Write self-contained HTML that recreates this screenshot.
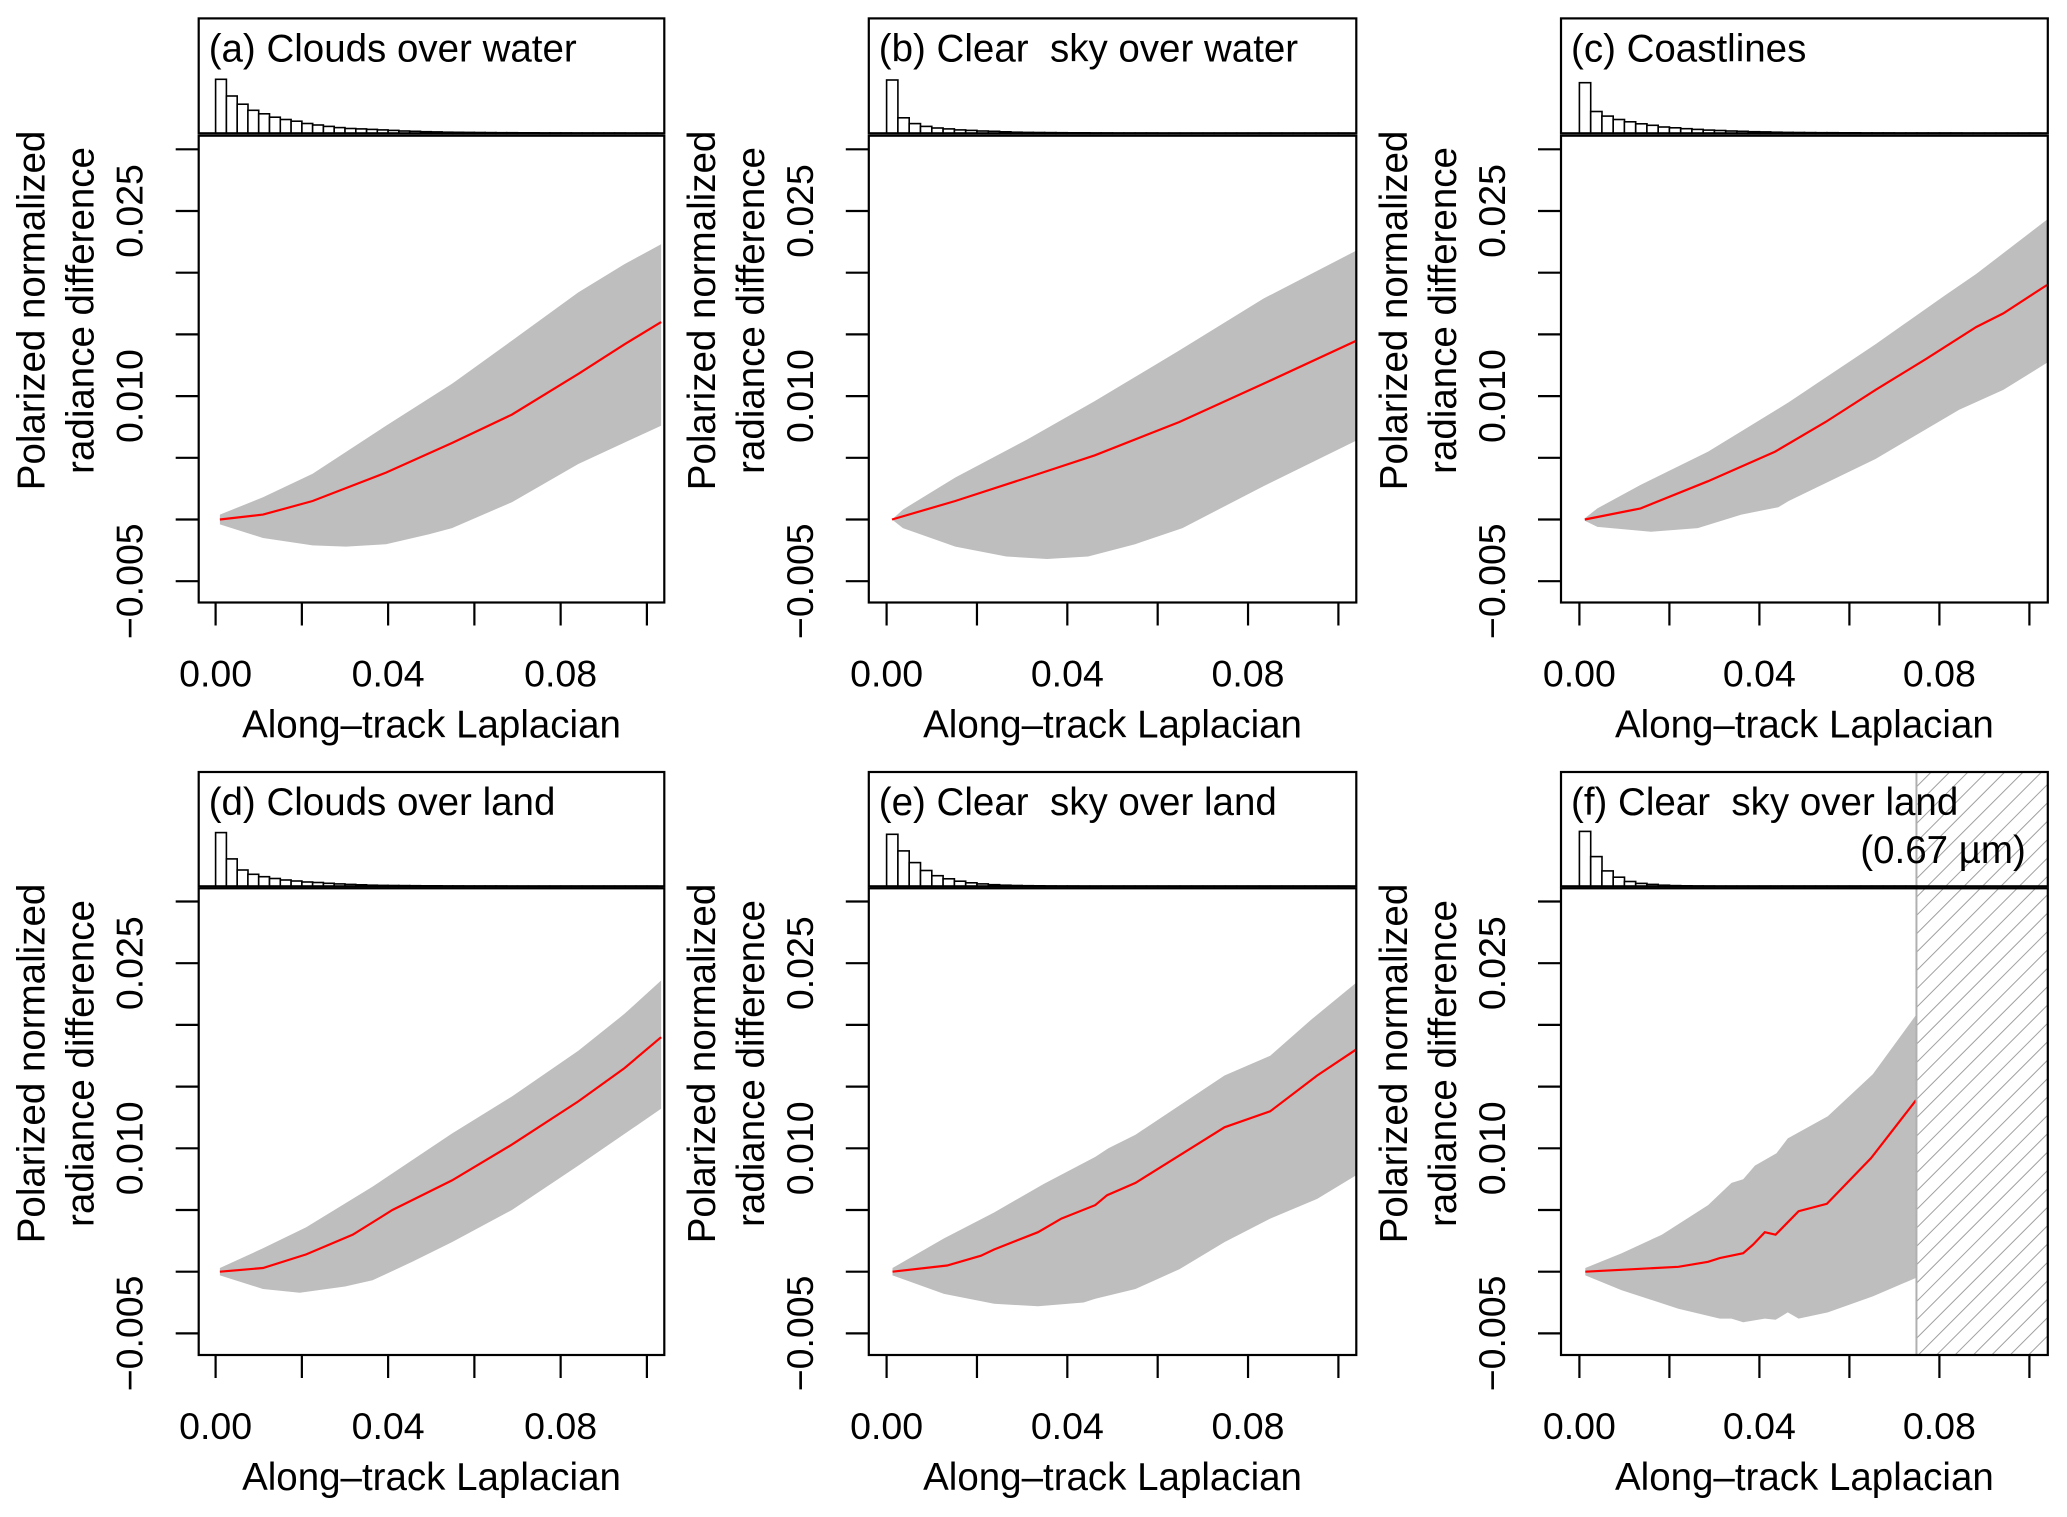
<!DOCTYPE html>
<html><head><meta charset="utf-8"><style>
html,body{margin:0;padding:0;background:#fff;}
svg{display:block;font-family:"Liberation Sans",Arial,sans-serif;}
</style></head><body>
<svg id="fig" width="2067" height="1517" viewBox="0 0 2067 1517" xmlns="http://www.w3.org/2000/svg"></svg>
<script>
const xTicks = [0, 0.02, 0.04, 0.06, 0.08, 0.10];
const xTickLabels = ["0.00", "", "0.04", "", "0.08", ""];
const yTicks = [-0.005, 0, 0.005, 0.010, 0.015, 0.020, 0.025, 0.030];
const yTickLabels = ["\u22120.005", "", "", "0.010", "", "", "0.025", ""];
const panelTitles = ["(a) Clouds over water", "(b) Clear  sky over water", "(c) Coastlines", "(d) Clouds over land", "(e) Clear  sky over land", "(f) Clear  sky over land"];
const histBinWidth = 0.0025;

const aMedX = [0.001,0.011,0.0225,0.0395,0.0548,0.0687,0.0841,0.0948,0.1033];
const aMedY = [0,0.0004,0.0015,0.0038,0.0062,0.0085,0.0118,0.0142,0.016];
const aHiX = [0.001,0.011,0.0225,0.0395,0.0548,0.0687,0.0841,0.0948,0.1033];
const aHiY = [0.0004,0.0018,0.0037,0.0076,0.011,0.0145,0.0184,0.0207,0.0223];
const aLoX = [0.001,0.011,0.0225,0.0302,0.0395,0.0495,0.0548,0.0687,0.0841,0.1033];
const aLoY = [-0.0004,-0.0015,-0.0021,-0.0022,-0.002,-0.0012,-0.0007,0.0014,0.0045,0.0076];
const aHist = [0.47,0.325,0.253,0.2,0.17,0.14,0.12,0.105,0.085,0.072,0.06,0.05,0.042,0.038,0.034,0.03,0.025,0.02,0.017,0.014,0.012,0.01,0.009,0.008,0.007,0.006,0.005,0.005,0.004,0.004,0.003,0.003,0.003,0.002,0.002,0.002,0.002,0.002,0.001,0.001,0.001];

const bMedX = [0.0012,0.0152,0.0312,0.0461,0.0648,0.0834,0.104];
const bMedY = [0,0.0015,0.0034,0.0052,0.0079,0.011,0.0145];
const bHiX = [0.0012,0.0036,0.0152,0.0312,0.0461,0.0648,0.0834,0.104];
const bHiY = [0,0.0008,0.0034,0.0065,0.0096,0.0137,0.0179,0.0218];
const bLoX = [0.0012,0.0036,0.0152,0.0265,0.0355,0.0446,0.055,0.0655,0.0834,0.104];
const bLoY = [0,-0.0007,-0.0022,-0.003,-0.0032,-0.003,-0.002,-0.0007,0.0027,0.0064];
const bHist = [0.464,0.135,0.084,0.06,0.046,0.038,0.03,0.025,0.02,0.017,0.013,0.01,0.008,0.007,0.006,0.005,0.004,0.004,0.003,0.003,0.002,0.002,0.002,0.002,0.001,0.001,0.001,0.001,0.001,0.001,0.001,0.001,0.001,0.001,0.001,0.001,0.001,0.001,0.001,0.001,0.001];

const cMedX = [0.0012,0.0136,0.0286,0.0435,0.0547,0.0658,0.077,0.0882,0.0942,0.1039];
const cMedY = [0,0.0009,0.0031,0.0055,0.0079,0.0105,0.013,0.0156,0.0167,0.019];
const cHiX = [0.0012,0.004,0.0136,0.0286,0.0465,0.051,0.0658,0.081,0.0882,0.1039];
const cHiY = [0.0001,0.0009,0.0028,0.0055,0.0095,0.0106,0.0142,0.0181,0.0199,0.0243];
const cLoX = [0.0012,0.004,0.0159,0.0263,0.036,0.0442,0.0465,0.0658,0.0844,0.0942,0.1039];
const cLoY = [-0.0001,-0.0006,-0.001,-0.0007,0.0004,0.001,0.0015,0.0049,0.0089,0.0105,0.0127];
const cHist = [0.44,0.19,0.15,0.12,0.10,0.083,0.07,0.055,0.048,0.04,0.034,0.028,0.024,0.02,0.017,0.014,0.012,0.01,0.008,0.007,0.006,0.005,0.005,0.004,0.004,0.003,0.003,0.003,0.002,0.002,0.002,0.002,0.002,0.002,0.001,0.001,0.001,0.001,0.001,0.001,0.001];

const dMedX = [0.001,0.011,0.021,0.0318,0.041,0.0548,0.0687,0.0841,0.0948,0.1033];
const dMedY = [0,0.0003,0.0014,0.003,0.005,0.0074,0.0103,0.0138,0.0165,0.019];
const dHiX = [0.001,0.011,0.021,0.0364,0.0548,0.0687,0.0841,0.0948,0.1033];
const dHiY = [0.0003,0.0019,0.0036,0.0069,0.0112,0.0142,0.0179,0.0209,0.0236];
const dLoX = [0.001,0.011,0.0195,0.03,0.0364,0.0456,0.0548,0.0687,0.0841,0.1033];
const dLoY = [-0.0003,-0.0014,-0.0017,-0.0012,-0.0007,0.0008,0.0024,0.005,0.0086,0.0132];
const dHist = [0.47,0.24,0.143,0.105,0.084,0.068,0.055,0.046,0.038,0.033,0.026,0.021,0.017,0.013,0.01,0.008,0.007,0.006,0.005,0.004,0.004,0.003,0.003,0.002,0.002,0.002,0.002,0.001,0.001,0.001,0.001,0.001,0.001,0.001,0.001,0.001,0.001,0.001,0.001,0.001,0.001];

const eMedX = [0.0013,0.0134,0.0209,0.0238,0.0335,0.0387,0.0462,0.0488,0.0551,0.0748,0.0849,0.0953,0.1039];
const eMedY = [0,0.0005,0.0013,0.0018,0.0032,0.0043,0.0054,0.0062,0.0072,0.0117,0.013,0.0159,0.018];
const eHiX = [0.0013,0.0127,0.0238,0.0347,0.0462,0.0491,0.0551,0.0748,0.0849,0.0939,0.1039];
const eHiY = [0.0003,0.0027,0.0048,0.0071,0.0093,0.01,0.0111,0.0159,0.0175,0.0204,0.0234];
const eLoX = [0.0013,0.0127,0.0238,0.0335,0.0436,0.0462,0.0551,0.0648,0.0748,0.0849,0.0953,0.1039];
const eLoY = [-0.0003,-0.0018,-0.0026,-0.0028,-0.0025,-0.0022,-0.0014,0.0002,0.0024,0.0043,0.0059,0.0078];
const eHist = [0.455,0.31,0.207,0.138,0.093,0.066,0.045,0.031,0.021,0.014,0.01,0.007,0.005,0.004,0.003,0.002,0.002,0.001,0.001,0.001,0.001,0.001,0.001,0.001,0.001,0.001,0.001,0.001,0.001,0.001,0.001,0.001,0.001,0.001,0.001,0.001,0.001,0.001,0.001,0.001,0.001];

const fMedX = [0.0013,0.022,0.0286,0.0312,0.0364,0.0386,0.0412,0.0436,0.0487,0.055,0.0648,0.0748];
const fMedY = [0,0.0004,0.0008,0.0011,0.0015,0.0022,0.0032,0.003,0.0049,0.0055,0.0092,0.0139];
const fHiX = [0.0013,0.0094,0.0183,0.0286,0.0338,0.0364,0.039,0.0438,0.0463,0.0552,0.0652,0.0748];
const fHiY = [0.0003,0.0015,0.003,0.0054,0.0072,0.0075,0.0086,0.0096,0.0108,0.0126,0.016,0.0208];
const fLoX = [0.0013,0.0094,0.022,0.0312,0.0338,0.0364,0.0412,0.0436,0.0463,0.0487,0.0552,0.0652,0.0748];
const fLoY = [-0.0003,-0.0015,-0.003,-0.0038,-0.0038,-0.0041,-0.0038,-0.0039,-0.0033,-0.0038,-0.0033,-0.002,-0.0005];
const fHist = [0.48,0.26,0.135,0.08,0.042,0.025,0.017,0.01,0.006,0.004,0.003,0.002,0.001,0.001,0.001,0.001,0.001,0.001,0.001,0.001,0.001,0.001,0.001,0.001,0.001,0.001,0.001,0.001,0.001,0.001];
const fHatchStart = 0.0749;

const cols = [
  {left:198.7, right:664.3, x0:215.6, kx:4313},
  {left:868.8, right:1356.3, x0:886.6, kx:4518},
  {left:1561, right:2047.8, x0:1579.4, kx:4500}
];
const rows = [
  {boxTop:18.4, histBottom:133.3, mainTop:135.7, mainBottom:602.5, y0:519.5, ky:12340},
  {boxTop:772, histBottom:886.3, mainTop:888.3, mainBottom:1355, y0:1271.7, ky:12340}
];
const panels = [
  {med:[aMedX,aMedY], hi:[aHiX,aHiY], lo:[aLoX,aLoY], hist:aHist},
  {med:[bMedX,bMedY], hi:[bHiX,bHiY], lo:[bLoX,bLoY], hist:bHist},
  {med:[cMedX,cMedY], hi:[cHiX,cHiY], lo:[cLoX,cLoY], hist:cHist},
  {med:[dMedX,dMedY], hi:[dHiX,dHiY], lo:[dLoX,dLoY], hist:dHist},
  {med:[eMedX,eMedY], hi:[eHiX,eHiY], lo:[eLoX,eLoY], hist:eHist},
  {med:[fMedX,fMedY], hi:[fHiX,fHiY], lo:[fLoX,fLoY], hist:fHist}
];
const NS = "http://www.w3.org/2000/svg";
const svg = document.getElementById("fig");
function mk(tag, attrs, parent) {
  const e = document.createElementNS(NS, tag);
  for (const k in attrs) e.setAttribute(k, attrs[k]);
  (parent || svg).appendChild(e);
  return e;
}
const defs = mk("defs", {});
const pat = mk("pattern", {id:"hatch", patternUnits:"userSpaceOnUse", width:"13", height:"13", patternTransform:"rotate(45)"}, defs);
mk("line", {x1:"0", y1:"0", x2:"0", y2:"13", stroke:"#a0a0a0", "stroke-width":"2"}, pat);

panels.forEach((p, i) => {
  const c = cols[i % 3], r = rows[Math.floor(i / 3)];
  const sx = v => c.x0 + v * c.kx;
  const sy = v => r.y0 - v * r.ky;
  const g = mk("g", {});
  
  
  const clipId = "clip" + i;
  const cp = mk("clipPath", {id:clipId}, defs);
  mk("rect", {x:c.left, y:r.mainTop, width:c.right - c.left, height:r.mainBottom - r.mainTop}, cp);

  const pts = [];
  p.hi[0].forEach((x, k) => pts.push(sx(x).toFixed(1) + "," + sy(p.hi[1][k]).toFixed(1)));
  for (let k = p.lo[0].length - 1; k >= 0; k--) pts.push(sx(p.lo[0][k]).toFixed(1) + "," + sy(p.lo[1][k]).toFixed(1));
  const band = mk("polygon", {points:pts.join(" "), fill:"#bebebe", stroke:"none", "clip-path":"url(#" + clipId + ")"}, g);
  
  
  const mpts = p.med[0].map((x, k) => sx(x).toFixed(1) + "," + sy(p.med[1][k]).toFixed(1)).join(" ");
  const line = mk("polyline", {points:mpts, fill:"none", stroke:"#ff0000", "stroke-width":"2.2", "clip-path":"url(#" + clipId + ")"}, g);
  
  

  const hh = r.histBottom - r.boxTop;
  p.hist.forEach((h, k) => {
    const x1 = sx(k * histBinWidth), x2 = sx((k + 1) * histBinWidth);
    if (x2 > c.right) return;
    const bar = mk("rect", {x:x1.toFixed(1), y:(r.histBottom - h * hh).toFixed(1), width:(x2 - x1).toFixed(1), height:(h * hh).toFixed(1), fill:"#fff", stroke:"#000", "stroke-width":"1.6"}, g);
    
    
  });

  if (i === 5) {
    const hx = sx(fHatchStart);
    const hr = mk("rect", {x:hx, y:r.boxTop, width:c.right - hx, height:r.mainBottom - r.boxTop, fill:"url(#hatch)"}, g);
    
    
    mk("line", {x1:hx, y1:r.boxTop, x2:hx, y2:r.mainBottom, stroke:"#b0b0b0", "stroke-width":"2"}, g);
    const t2 = mk("text", {x:c.right - 22, y:r.boxTop + 91, "font-size":"38.5", "text-anchor":"end", fill:"#000"}, g);
    t2.textContent = "(0.67 \u00b5m)";
    
    
  }

  mk("rect", {x:c.left, y:r.boxTop, width:c.right - c.left, height:r.histBottom - r.boxTop, fill:"none", stroke:"#000", "stroke-width":"2.2"}, g);
  mk("rect", {x:c.left, y:r.mainTop, width:c.right - c.left, height:r.mainBottom - r.mainTop, fill:"none", stroke:"#000", "stroke-width":"2.2"}, g);

  const title = mk("text", {x:c.left + 10, y:r.boxTop + 43, "font-size":"38.5", fill:"#000", "xml:space":"preserve", style:"white-space:pre"}, g);
  title.textContent = panelTitles[i];
  
  

  xTicks.forEach((v, k) => {
    const x = sx(v);
    mk("line", {x1:x, y1:r.mainBottom, x2:x, y2:r.mainBottom + 23, stroke:"#000", "stroke-width":"2.2"}, g);
    if (xTickLabels[k]) {
      const t = mk("text", {x:x, y:r.mainBottom + 84, "font-size":"37.5", "text-anchor":"middle", fill:"#000"}, g);
      t.textContent = xTickLabels[k];
      
      
    }
  });
  const xt = mk("text", {x:(c.left + c.right) / 2, y:r.mainBottom + 135, "font-size":"38.5", "text-anchor":"middle", fill:"#000"}, g);
  xt.textContent = "Along\u2013track Laplacian";
  
  

  yTicks.forEach((v, k) => {
    const y = sy(v);
    mk("line", {x1:c.left - 23, y1:y, x2:c.left, y2:y, stroke:"#000", "stroke-width":"2.2"}, g);
    if (yTickLabels[k]) {
      const tx = c.left - 56;
      const t = mk("text", {x:tx, y:y, "font-size":"37.5", "text-anchor":"middle", fill:"#000", transform:"rotate(-90 " + tx + " " + y + ")"}, g);
      t.textContent = yTickLabels[k];
      
      
    }
  });
  const cy = (r.boxTop + r.mainBottom) / 2;
  [["Polarized normalized", c.left - 154], ["radiance difference", c.left - 105]].forEach(([s, x]) => {
    const t = mk("text", {x:x, y:cy, "font-size":"38.5", "text-anchor":"middle", fill:"#000", transform:"rotate(-90 " + x + " " + cy + ")"}, g);
    t.textContent = s;
    
    
  });
});
</script>
</body></html>
